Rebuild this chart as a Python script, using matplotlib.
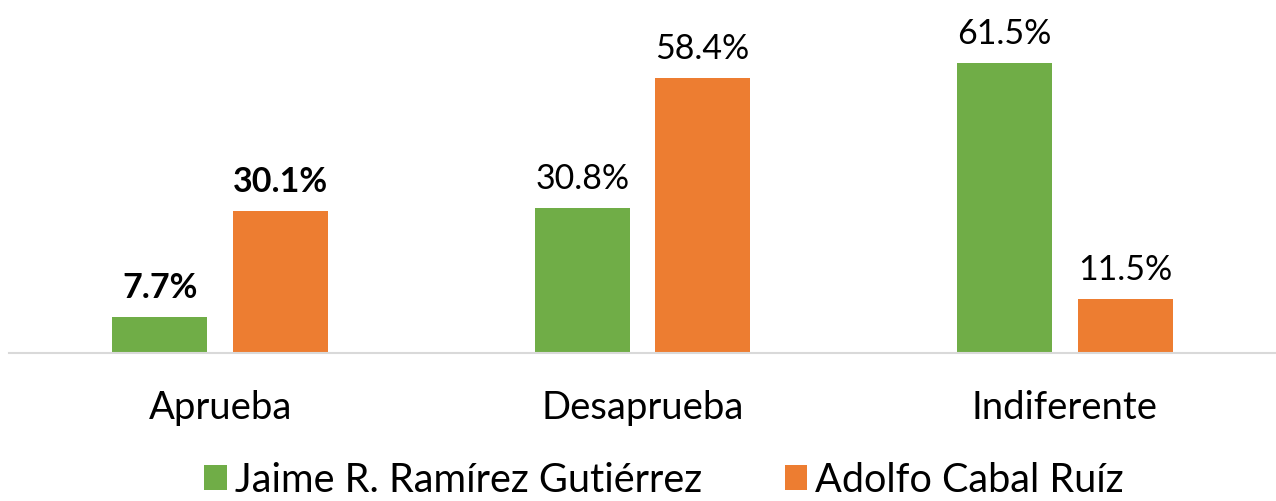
import matplotlib.pyplot as plt
import numpy as np

categories = ['Aprueba', 'Desaprueba', 'Indiferente']
series_names = ['Jaime R. Ramírez Gutiérrez', 'Adolfo Cabal Ruíz']
jaime = [7.7, 30.8, 61.5]
adolfo = [30.1, 58.4, 11.5]
bold_group = 0  # Aprueba labels are bold

green = '#70AD47'
orange = '#ED7D31'

plt.rcParams['font.family'] = ['Lato', 'DejaVu Sans']

fig = plt.figure(figsize=(12.76, 5.02), dpi=100)
ax = fig.add_axes([9 / 1276, 1 - 354 / 502, 1267 / 1276, 330 / 502])

x = np.arange(len(categories))
w = 0.225
off = 0.1425
b1 = ax.bar(x - off, jaime, w, color=green, label=series_names[0])
b2 = ax.bar(x + off, adolfo, w, color=orange, label=series_names[1])

for bars, vals in [(b1, jaime), (b2, adolfo)]:
    for i, (r, v) in enumerate(zip(bars, vals)):
        ax.text(r.get_x() + r.get_width() / 2, v + 3.0, f'{v:.1f}%',
                ha='center', va='bottom', fontsize=24.5,
                fontweight='bold' if i == bold_group else 'normal',
                clip_on=False)

ax.set_xlim(-0.5, 2.5)
ax.set_ylim(0, 70)
ax.set_yticks([])
ax.set_xticks(x)
ax.set_xticklabels(categories, fontsize=27.5)
ax.tick_params(axis='x', length=0, pad=26)
for s in ['top', 'right', 'left']:
    ax.spines[s].set_visible(False)
ax.spines['bottom'].set_color('#D9D9D9')
ax.spines['bottom'].set_linewidth(1.5)

fig.legend(loc='center', bbox_to_anchor=(664 / 1276, 1 - 481 / 502),
           ncol=2, frameon=False, fontsize=28.5, handlelength=0.56,
           handleheight=0.56, handletextpad=0.2, columnspacing=2.1,
           borderpad=0)

fig.savefig('out.png', dpi=100)
